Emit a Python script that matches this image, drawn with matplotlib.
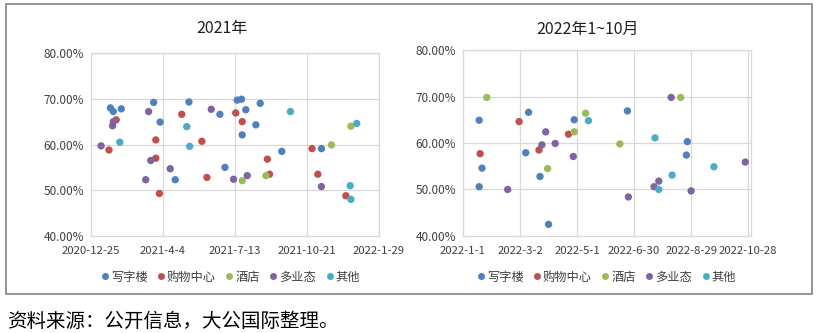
import matplotlib
matplotlib.use("Agg")
import matplotlib.pyplot as plt
import matplotlib.dates as mdates
from matplotlib.ticker import FuncFormatter, FixedLocator
from matplotlib.lines import Line2D
from matplotlib.patches import Rectangle
import datetime as dt

plt.rcParams['font.family'] = ['Noto Sans CJK SC', 'DejaVu Sans']

categories = ['写字楼', '购物中心', '酒店', '多业态', '其他']
colors = ['#4F81BD', '#C0504D', '#9BBB59', '#8064A2', '#4BACC6']

# ---- 2021 ----
office21_dates = ['2021-01-21', '2021-01-25', '2021-02-05', '2021-03-22', '2021-03-31', '2021-04-21',
                  '2021-05-10', '2021-06-22', '2021-06-29', '2021-07-16', '2021-07-22', '2021-07-28',
                  '2021-07-23', '2021-08-11', '2021-08-17', '2021-09-16', '2021-11-10']
office21_vals = [68.0, 67.2, 67.8, 69.2, 64.9, 52.3, 69.3, 66.6, 55.0, 69.7, 69.9, 67.6,
                 62.1, 64.3, 69.0, 58.5, 59.1]
mall21_dates = ['2021-01-29', '2021-01-19', '2021-03-25', '2021-03-25', '2021-03-30', '2021-04-30',
                '2021-05-28', '2021-06-04', '2021-07-14', '2021-07-23', '2021-08-27', '2021-08-30',
                '2021-10-28', '2021-11-05', '2021-12-14']
mall21_vals = [65.4, 58.8, 61.0, 57.0, 49.3, 66.6, 60.7, 52.8, 66.9, 65.0, 56.8, 53.5, 59.1, 53.5, 48.8]
hotel21_dates = ['2021-07-23', '2021-08-25', '2021-11-24', '2021-12-21']
hotel21_vals = [52.1, 53.2, 59.9, 64.0]
mixed21_dates = ['2021-01-08', '2021-01-24', '2021-01-25', '2021-03-15', '2021-03-18', '2021-03-11',
                 '2021-04-14', '2021-06-10', '2021-07-11', '2021-07-30', '2021-11-10']
mixed21_vals = [59.7, 64.1, 65.0, 67.2, 56.5, 52.3, 54.7, 67.7, 52.4, 53.2, 50.8]
other21_dates = ['2021-02-03', '2021-05-07', '2021-05-11', '2021-09-28', '2021-12-20', '2021-12-21',
                 '2021-12-29']
other21_vals = [60.5, 63.9, 59.6, 67.2, 51.0, 48.0, 64.6]

# ---- 2022 1~10 ----
office22_dates = ['2022-01-18', '2022-01-21', '2022-01-18', '2022-03-08', '2022-03-11', '2022-03-23',
                  '2022-04-01', '2022-04-28', '2022-06-23', '2022-08-24', '2022-08-25']
office22_vals = [64.9, 54.6, 50.6, 57.9, 66.6, 52.8, 42.5, 65.0, 66.9, 57.4, 60.3]
mall22_dates = ['2022-01-19', '2022-03-01', '2022-03-22', '2022-04-22']
mall22_vals = [57.7, 64.6, 58.5, 61.9]
hotel22_dates = ['2022-01-26', '2022-03-31', '2022-04-28', '2022-05-10', '2022-06-15', '2022-08-18']
hotel22_vals = [69.8, 54.5, 62.4, 66.4, 59.8, 69.8]
mixed22_dates = ['2022-02-17', '2022-03-25', '2022-03-29', '2022-04-08', '2022-04-27', '2022-06-24',
                 '2022-07-21', '2022-07-26', '2022-08-08', '2022-08-29', '2022-10-25']
mixed22_vals = [50.0, 59.6, 62.4, 59.9, 57.1, 48.4, 50.6, 51.8, 69.8, 49.7, 55.9]
other22_dates = ['2022-05-13', '2022-07-22', '2022-07-26', '2022-08-09', '2022-09-22']
other22_vals = [64.8, 61.1, 50.0, 53.1, 54.9]

xticks21 = ['2020-12-25', '2021-4-4', '2021-7-13', '2021-10-21', '2022-1-29']
xticks22 = ['2022-1-1', '2022-3-2', '2022-5-1', '2022-6-30', '2022-8-29', '2022-10-28']
xlim21 = ['2020-12-25', '2022-1-29']
xlim22 = ['2022-1-1', '2022-10-31']
yticks = [40, 50, 60, 70, 80]
titles = ['2021年', '2022年1~10月']
source = '资料来源：公开信息，大公国际整理。'

series21 = [(office21_dates, office21_vals), (mall21_dates, mall21_vals), (hotel21_dates, hotel21_vals),
            (mixed21_dates, mixed21_vals), (other21_dates, other21_vals)]
series22 = [(office22_dates, office22_vals), (mall22_dates, mall22_vals), (hotel22_dates, hotel22_vals),
            (mixed22_dates, mixed22_vals), (other22_dates, other22_vals)]


def todate(s):
    y, m, d = (int(p) for p in s.split('-'))
    return dt.date(y, m, d)


W, H = 818, 333
fig = plt.figure(figsize=(W / 100, H / 100), dpi=100)


def px_axes(x0, x1, ytop, ybot):
    return fig.add_axes([x0 / W, 1 - ybot / H, (x1 - x0) / W, (ybot - ytop) / H])


grid_c = '#D9D9D9'
text_c = '#404040'


def style(ax, series, xt, xl):
    for (ds, vs), c in zip(series, colors):
        ax.scatter([mdates.date2num(todate(d)) for d in ds], vs, s=28, color=c, edgecolors='none', zorder=3)
    ax.set_xlim(mdates.date2num(todate(xl[0])), mdates.date2num(todate(xl[1])))
    ax.set_ylim(40, 80)
    ax.xaxis.set_major_locator(FixedLocator([mdates.date2num(todate(t)) for t in xt]))
    ax.set_xticklabels(xt)
    ax.set_yticks(yticks)
    ax.yaxis.set_major_formatter(FuncFormatter(lambda v, p: f'{v:.2f}%'))
    ax.grid(True, color=grid_c, linewidth=0.9, zorder=0)
    ax.set_axisbelow(True)
    for sp in ax.spines.values():
        sp.set_color(grid_c)
        sp.set_linewidth(0.9)
    ax.tick_params(length=0, labelsize=8.5, colors=text_c)
    ax.tick_params(axis='x', pad=7, labelsize=8.2)
    ax.tick_params(axis='y', pad=5)


ax1 = px_axes(91, 379, 53, 236)
style(ax1, series21, xticks21, xlim21)
ax2 = px_axes(463, 751, 50, 236)
style(ax2, series22, xticks22, xlim22)

fig.text(222 / W, 1 - 29 / H, titles[0], ha='center', va='center', fontsize=11.5, color='#202020')
fig.text(588 / W, 1 - 29 / H, titles[1], ha='center', va='center', fontsize=11.5, color='#202020')

handles = [Line2D([], [], marker='o', linestyle='none', markersize=5, color=c, markeredgewidth=0) for c in colors]
for cx in (230, 606):
    fig.legend(handles, categories, loc='center', bbox_to_anchor=(cx / W, 1 - 277 / H), ncol=5,
               frameon=False, fontsize=8.8, handletextpad=0.1, columnspacing=0.7, handlelength=0.8,
               labelcolor=text_c, borderaxespad=0)

fig.add_artist(Rectangle((6 / W, 1 - 294 / H), 806 / W, 290 / H, transform=fig.transFigure,
                         fill=False, edgecolor='#8C8C8C', linewidth=1.3))

fig.text(7 / W, 1 - 321 / H, source, ha='left', va='center', fontsize=14, color='#000000')

fig.savefig('out.png', dpi=100)
